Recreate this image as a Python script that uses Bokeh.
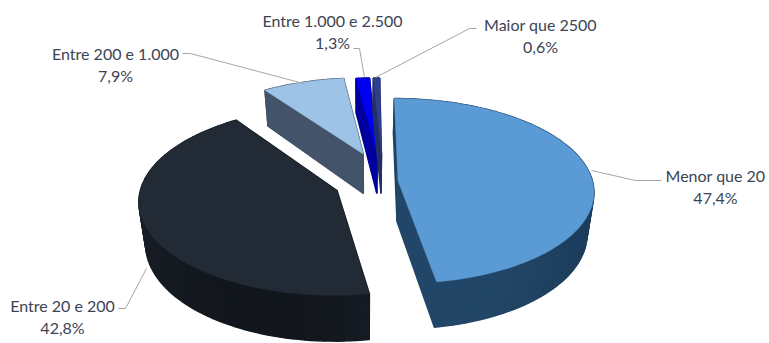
import numpy as np
from bokeh.plotting import figure
from bokeh.embed import file_html
from bokeh.resources import INLINE
from bokeh.core.properties import value

categories = ["Menor que 20", "Entre 20 e 200", "Entre 200 e 1.000", "Entre 1.000 e 2.500", "Maior que 2500"]
shares = [47.4, 42.8, 7.9, 1.3, 0.6]
share_labels = ["47,4%", "42,8%", "7,9%", "1,3%", "0,6%"]

top_colors = ["#5B9BD5", "#222A35", "#9DC3E6", "#0000F0", "#2F3F8F"]
side_dark = ["#1A3857", "#12161D", "#3B4A5E", "#00007A", "#1A2450"]
side_light = ["#234768", "#1B212A", "#4D5E76", "#0000B8", "#2A3670"]
explode = [(0.167, -0.03), (-0.145, 0.075), (-0.012, -0.33), (0.062, -0.33), (0.085, -0.33)]
draw_order = [2, 3, 4, 1, 0]

label_pos = [(715, 175), (62, 305), (115, 53), (332, 20), (540, 24)]
leaders = [
    ([591, 635, 661], [170, 180, 180]),
    ([146, 125, 118], [268, 308, 308]),
    ([303, 190, 182], [83, 53, 53]),
    ([364, 359, 353], [77, 48, 48]),
    ([375, 469, 476], [77, 28, 28]),
]

CX, CY, RX, RY, K, DEPTH, SHRINK = 365, 183, 195, 93, 0.11, 41, 0.97


def project(gx, gy):
    s = 1 + K * gy
    return CX + gx * RX * s, CY + gy * RY * s, s


p = figure(width=769, height=343, x_range=(0, 769), y_range=(343, 0),
           output_backend="svg", toolbar_location=None, min_border=0,
           outline_line_color=None, background_fill_color="white")
p.xaxis.visible = False
p.yaxis.visible = False
p.grid.visible = False

edges = np.cumsum([0] + shares) / sum(shares) * 2 * np.pi
for i in draw_order:
    a0, a1 = edges[i], edges[i + 1]
    n = max(6, int((a1 - a0) / 0.03))
    ang = np.linspace(a0, a1, n)
    ox, oy = explode[i]
    gx = np.concatenate([[ox], ox + np.sin(ang)])
    gy = np.concatenate([[oy], oy - np.cos(ang)])
    x, y, s = project(gx, gy)
    bx = CX + (x - CX) * SHRINK
    by = y + DEPTH * s
    xs, ys, cols = [], [], []
    m = len(x)
    for j in range(m):
        k = (j + 1) % m
        xs.append([x[j], x[k], bx[k], bx[j]])
        ys.append([y[j], y[k], by[k], by[j]])
        t = np.clip(0.5 + 0.5 * np.sin((x[j] - CX) / RX * 3.0), 0, 1)
        c0 = np.array([int(side_dark[i][q:q + 2], 16) for q in (1, 3, 5)])
        c1 = np.array([int(side_light[i][q:q + 2], 16) for q in (1, 3, 5)])
        c = (c0 + (c1 - c0) * t).astype(int)
        cols.append("#%02x%02x%02x" % tuple(c))
    order = np.argsort([np.mean(v) for v in ys])
    p.patches([xs[o] for o in order], [ys[o] for o in order],
              fill_color=[cols[o] for o in order], line_color=[cols[o] for o in order], line_width=1.5)
    p.patch(x, y, fill_color=top_colors[i], line_color=top_colors[i], line_width=0.5)

for lx, ly in leaders:
    p.line(lx, ly, line_color="#A6A6A6", line_width=1)

for (cat, pct, (tx, ty)) in zip(categories, share_labels, label_pos):
    p.text([tx], [ty], text=[cat], text_font=value("Lato"), text_font_size="16px",
           text_color="#3B4454", text_align="center", text_baseline="middle")
    p.text([tx], [ty + 22], text=[pct], text_font=value("Lato"), text_font_size="16px",
           text_color="#3B4454", text_align="center", text_baseline="middle")

open("out.html", "w").write(file_html(p, INLINE))
